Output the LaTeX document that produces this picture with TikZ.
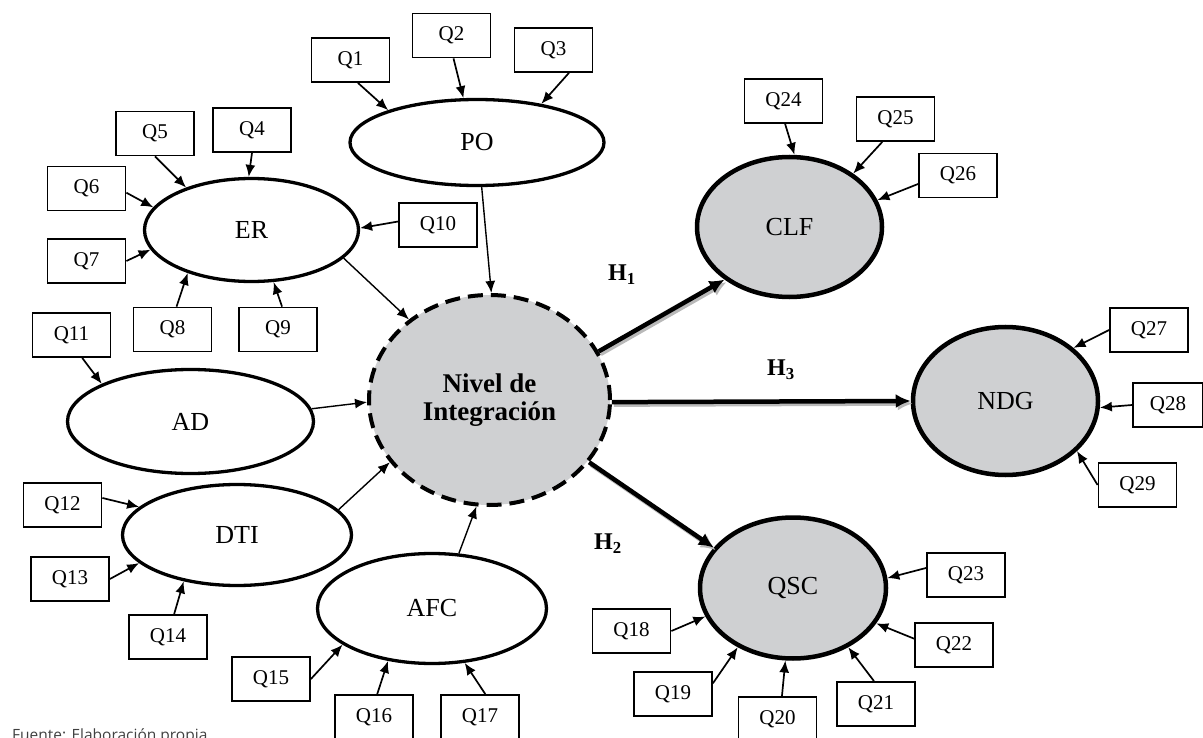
\documentclass[tikz,border=0pt]{standalone}
\usepackage{fontspec}
\setmainfont{Liberation Serif}
\newfontfamily\srcfont{Open Sans}
\usetikzlibrary{arrows.meta,shapes.geometric}
\definecolor{lvfill}{HTML}{CFD0D2}
\tikzset{
  qbox/.style={draw, line width=1.8pt, minimum width=78pt, minimum height=44pt, inner sep=0pt, font=\fontsize{21}{25}\selectfont},
  lv/.style={draw, ellipse, line width=3.3pt, inner sep=0pt, font=\fontsize{26}{30}\selectfont},
  lvg/.style={lv, fill=lvfill, line width=4.5pt},
  arr/.style={line width=1.7pt, -{Latex[length=12pt,width=10pt]}},
  sarr/.style={line width=1.4pt, -{Latex[length=12pt,width=10pt]}},
  harr/.style={line width=4.5pt, -{Latex[length=15pt,width=14pt]},
    preaction={draw=gray!55, line width=4.5pt, -{Latex[length=15pt,width=14pt]}, transform canvas={shift={(2pt,-2.5pt)}}}},
  hlab/.style={font=\bfseries\fontsize{24}{28}\selectfont},
}
\begin{document}
\begin{tikzpicture}[x=1pt,y=-1pt]
\useasboundingbox (0,0) rectangle (1203,738);
% latent ellipses
\node[lv, minimum width=254pt, minimum height=86pt] (PO) at (477,142.5) {PO};
\node[lv, minimum width=214pt, minimum height=103pt] (ER) at (251.5,230) {ER};
\node[lv, minimum width=246pt, minimum height=104pt] (AD) at (190.5,421.5) {AD};
\node[lv, minimum width=229pt, minimum height=101pt] (DTI) at (237,535) {DTI};
\node[lv, minimum width=229pt, minimum height=110pt] (AFC) at (432,608.5) {AFC};
\node[lvg, minimum width=185pt, minimum height=140pt] (CLF) at (789.5,227) {CLF};
\node[lvg, minimum width=185pt, minimum height=148pt] (NDG) at (1005.5,401) {NDG};
\node[lvg, minimum width=186pt, minimum height=141pt] (QSC) at (793,588) {QSC};
\node[draw, ellipse, fill=lvfill, line width=4pt, dash pattern=on 15pt off 8pt, minimum width=241pt, minimum height=210pt, inner sep=0pt, align=center, font=\bfseries\fontsize{27}{28}\selectfont] (NI) at (489.5,400) {Nivel de\\Integración};
% indicator boxes
\node[qbox] (Q1) at (350.5,60) {Q1};
\node[qbox] (Q2) at (451.5,35.5) {Q2};
\node[qbox] (Q3) at (553.5,50) {Q3};
\node[qbox] (Q4) at (252,130) {Q4};
\node[qbox] (Q5) at (155,133.5) {Q5};
\node[qbox] (Q6) at (86.5,188.5) {Q6};
\node[qbox] (Q7) at (86.5,261) {Q7};
\node[qbox] (Q8) at (172.5,329.5) {Q8};
\node[qbox] (Q9) at (278,329.5) {Q9};
\node[qbox] (Q10) at (438,225) {Q10};
\node[qbox] (Q11) at (71.5,335) {Q11};
\node[qbox] (Q12) at (62.5,505) {Q12};
\node[qbox] (Q13) at (70,579) {Q13};
\node[qbox] (Q14) at (168,637) {Q14};
\node[qbox] (Q15) at (271,679) {Q15};
\node[qbox] (Q16) at (374,717) {Q16};
\node[qbox] (Q17) at (480,717) {Q17};
\node[qbox] (Q18) at (631.5,631) {Q18};
\node[qbox] (Q19) at (673,694) {Q19};
\node[qbox] (Q20) at (777.5,719) {Q20};
\node[qbox] (Q21) at (876,704) {Q21};
\node[qbox] (Q22) at (954,645) {Q22};
\node[qbox] (Q23) at (966,575) {Q23};
\node[qbox] (Q24) at (783.5,101) {Q24};
\node[qbox] (Q25) at (895.5,119) {Q25};
\node[qbox] (Q26) at (958,175.5) {Q26};
\node[qbox] (Q27) at (1149,330) {Q27};
\node[qbox, minimum width=70pt] (Q28) at (1168,405) {Q28};
\node[qbox] (Q29) at (1137.5,485) {Q29};
% indicator arrows
\draw[arr] (Q1.-72) -- (PO.160);
\draw[arr] (Q2.-85) -- (PO.107);
\draw[arr] (Q3.-56) -- (PO.31);
\draw[arr] (Q4.south) -- (ER.93);
\draw[arr] (Q5.south) -- (ER.147);
\draw[arr] (Q6.-6) -- (ER.167);
\draw[arr] (Q7.east) -- (ER.191);
\draw[arr] (Q8.80) -- (ER.214);
\draw[arr] (Q9.80) -- (ER.-67);
\draw[arr] (Q10.175) -- (ER.1);
\draw[arr] (Q11.-65) -- (AD.157);
\draw[arr] (Q12.10) -- (DTI.164);
\draw[arr] (Q13.east) -- (DTI.196);
\draw[arr] (Q14.75) -- (DTI.221);
\draw[arr] (Q15.east) -- (AFC.202);
\draw[arr] (Q16.82) -- (AFC.230);
\draw[arr] (Q17.77) -- (AFC.-59);
\draw[arr] (Q18.east) -- (QSC.198);
\draw[arr] (Q19.15) -- (QSC.227);
\draw[arr] (Q20.79) -- (QSC.264);
\draw[arr] (Q21.95) -- (QSC.-47);
\draw[arr] (Q22.171) -- (QSC.-23);
\draw[arr] (Q23.170) -- (QSC.6);
\draw[arr] (Q24.-86) -- (CLF.86);
\draw[arr] (Q25.-120) -- (CLF.40);
\draw[arr] (Q26.192) -- (CLF.17);
\draw[arr] (Q27.west) -- (NDG.38);
\draw[arr] (Q28.west) -- (NDG.-4);
\draw[arr] (Q29.west) -- (NDG.-35);
% structural arrows
\draw[sarr] (ER.-17) -- (NI.135);
\draw[sarr] (PO.-84) -- (NI.89);
\draw[sarr] (AD.6) -- (NI.181);
\draw[sarr] (DTI.14) -- (NI.212);
\draw[sarr] (AFC.64) -- (NI.263);
\draw[harr] (NI.24.5) -- (CLF.219);
\draw[harr] (NI.-1) -- (NDG.180);
\draw[harr] (NI.-32) -- (QSC.153);
\node[hlab] (H1) at (622,275) {H\textsubscript{1}};
\node[hlab] (H3) at (781,370) {H\textsubscript{3}};
\node[hlab] (H2) at (608,544) {H\textsubscript{2}};
\node[anchor=base west, inner sep=0pt, text=black!75, font=\srcfont\fontsize{15.5}{18}\selectfont] (src) at (12,740) {Fuente: Elaboración propia};
\end{tikzpicture}
\end{document}
